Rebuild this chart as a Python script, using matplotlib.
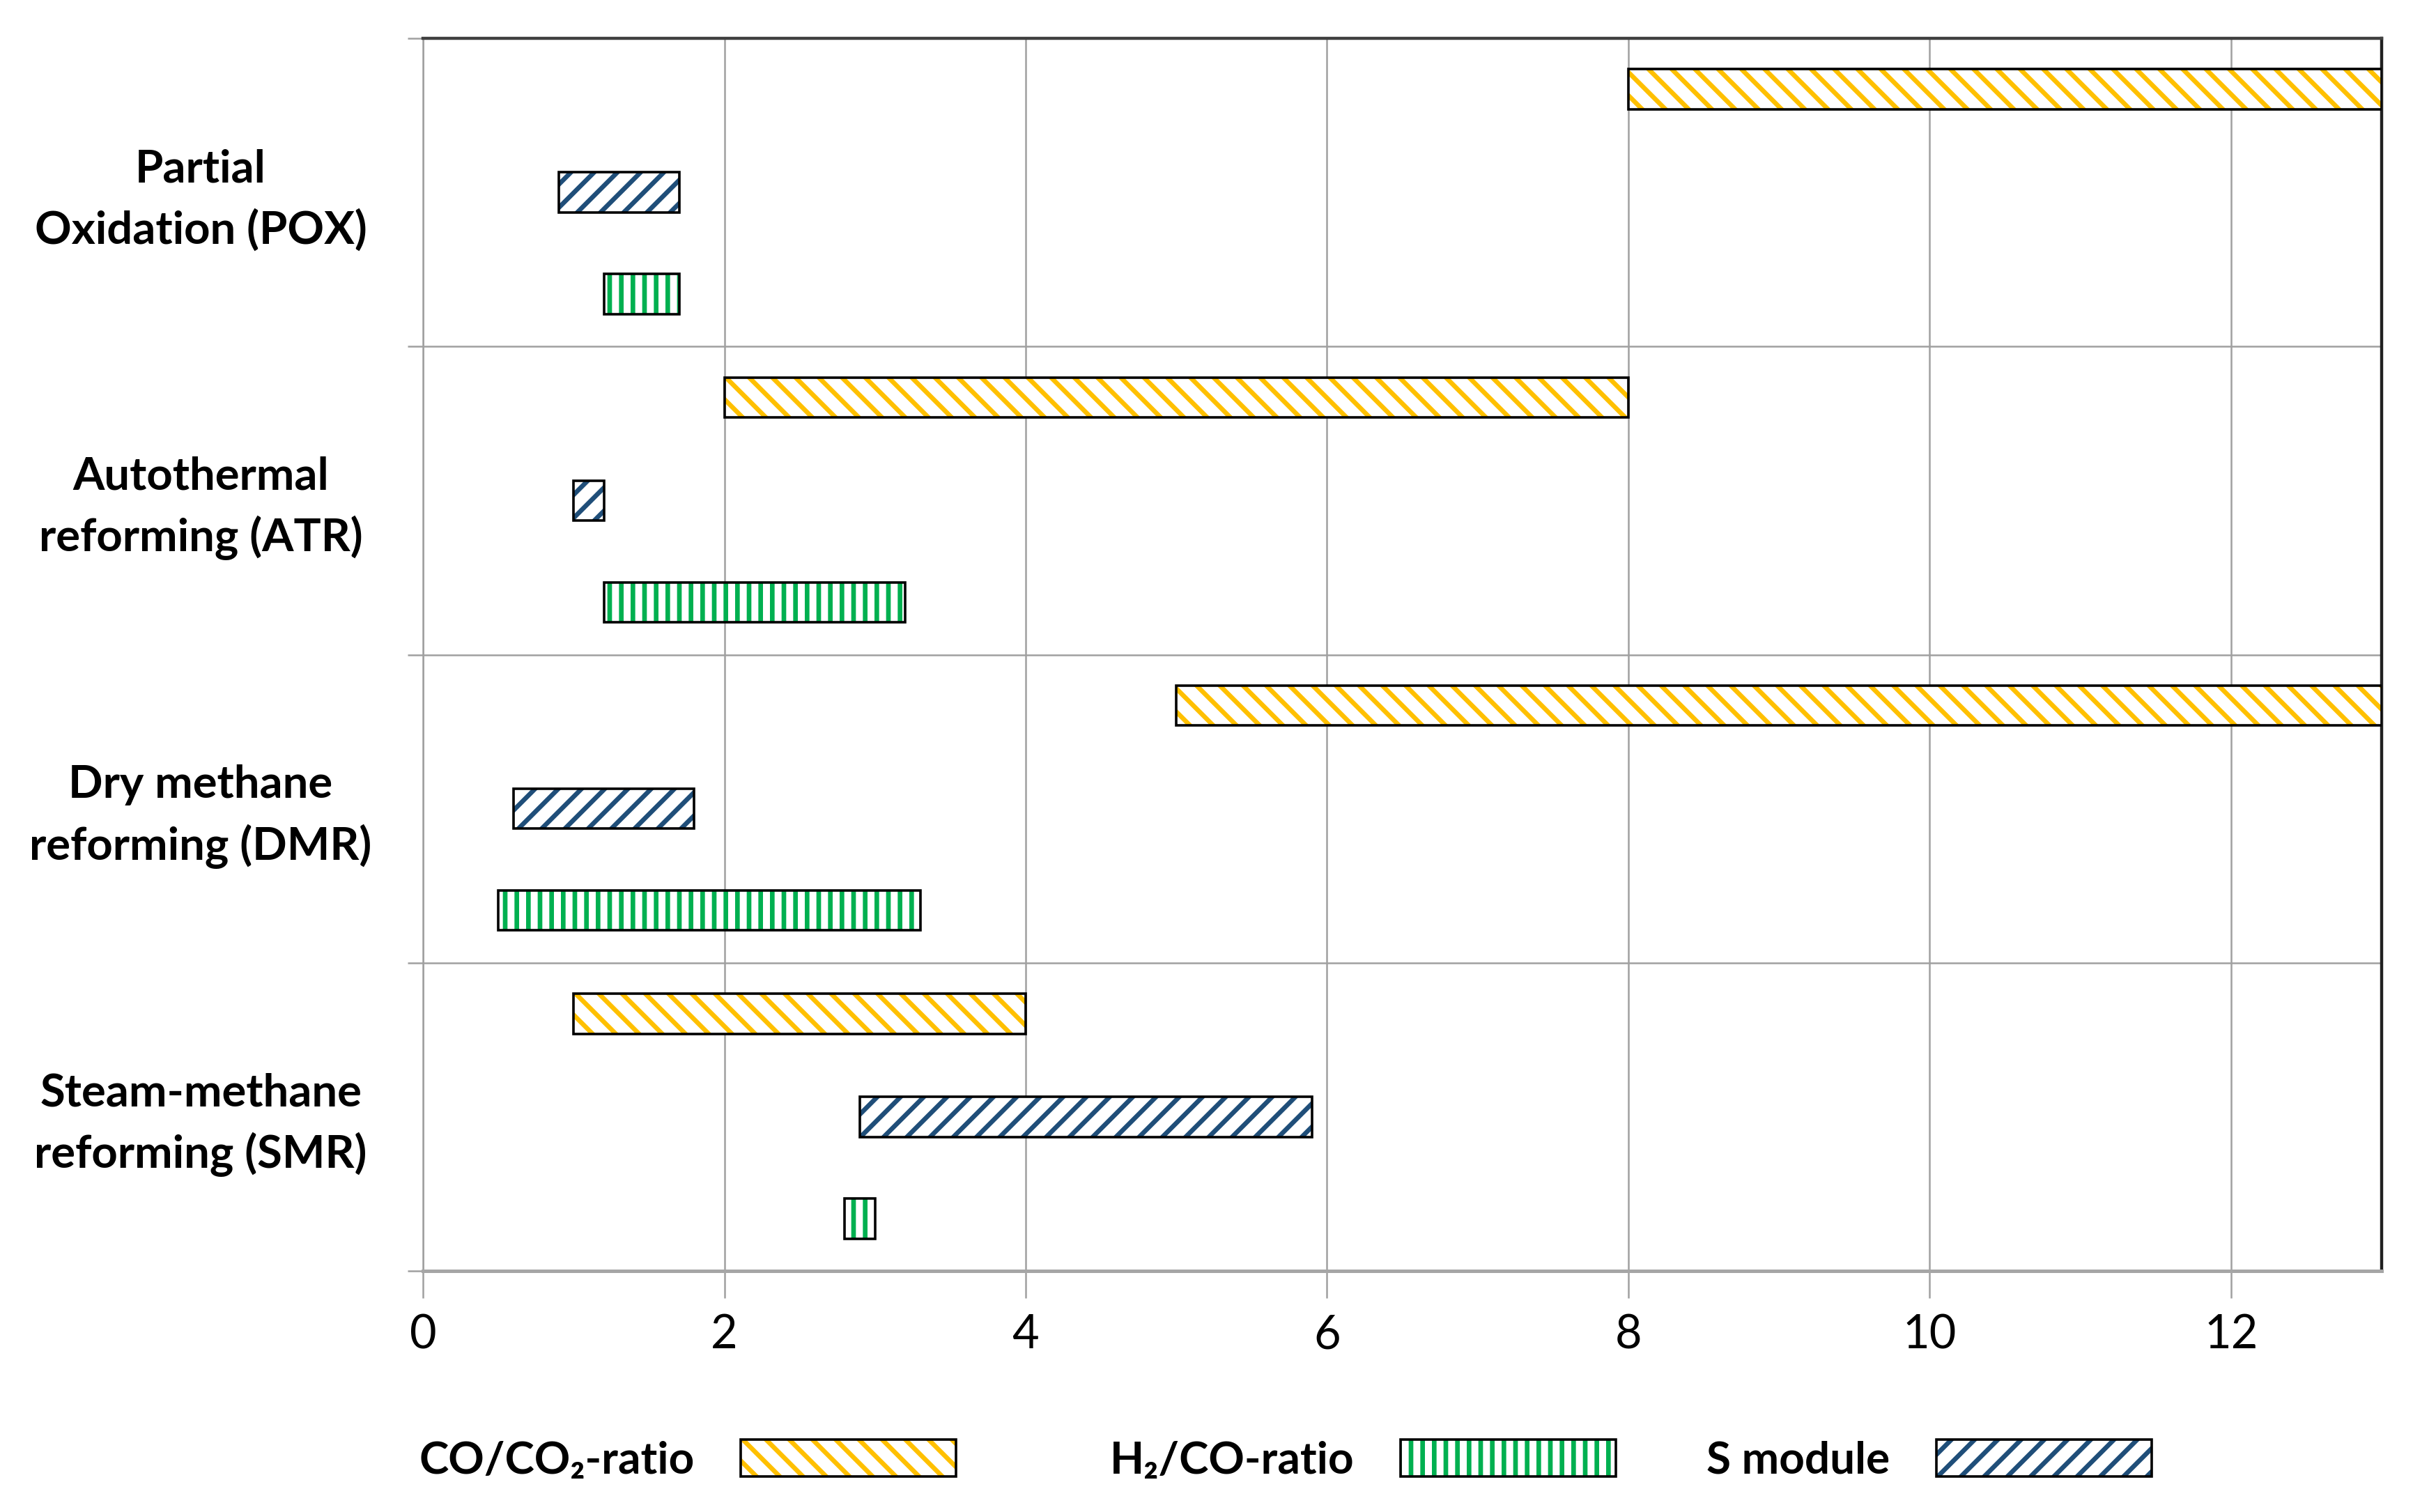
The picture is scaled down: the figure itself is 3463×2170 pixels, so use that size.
import matplotlib.pyplot as plt
from matplotlib.patches import Patch
from matplotlib.legend_handler import HandlerTuple
from matplotlib import transforms

plt.rcParams['font.family'] = ['Lato', 'DejaVu Sans']
plt.rcParams['hatch.linewidth'] = 2.4

processes = ['Partial\nOxidation (POX)', 'Autothermal\nreforming (ATR)',
             'Dry methane\nreforming (DMR)', 'Steam-methane\nreforming (SMR)']

# ranges (low, high)
co_co2_lo = [8, 2, 5, 1]
co_co2_hi = [13, 8, 13, 4]
s_mod_lo = [0.9, 1.0, 0.6, 2.9]
s_mod_hi = [1.7, 1.2, 1.8, 5.9]
h2_co_lo = [1.2, 1.2, 0.5, 2.8]
h2_co_hi = [1.7, 3.2, 3.3, 3.0]

x_ticks = [0, 2, 4, 6, 8, 10, 12]

series = [
    ('CO/CO₂-ratio', co_co2_lo, co_co2_hi, '#FFC000', '\\\\', -0.335),
    ('S module', s_mod_lo, s_mod_hi, '#1F4E79', '//', 0.0),
    ('H₂/CO-ratio', h2_co_lo, h2_co_hi, '#00B050', '||', 0.33),
]

fig = plt.figure(figsize=(17.315, 10.85), dpi=200)
ax = fig.add_axes([0.1753, 0.1594, 0.8117, 0.8152])

bar_h = 0.13
handles = {}
for name, lo, hi, col, hatch, off in series:
    ys = [i + off for i in range(len(processes))]
    widths = [h - l for l, h in zip(lo, hi)]
    ax.barh(ys, widths, left=lo, height=bar_h, color='white', edgecolor=col,
            hatch=hatch, linewidth=0, zorder=3)
    ax.barh(ys, widths, left=lo, height=bar_h, color='none', edgecolor='black',
            linewidth=1.3, zorder=4)
    handles[name] = (Patch(facecolor='white', edgecolor=col, hatch=hatch, linewidth=0),
                     Patch(facecolor='none', edgecolor='black', linewidth=1.3))

ax.set_xlim(0, 13)
ax.set_ylim(len(processes) - 0.5, -0.5)
ax.set_xticks(x_ticks)
ax.set_xticklabels([str(t) for t in x_ticks])
ax.tick_params(axis='x', length=14, width=0.9, color='#A0A0A0', pad=8, labelsize=24)

ax.set_yticks(range(len(processes)))
ax.set_yticklabels([])
ax.tick_params(axis='y', which='major', length=0)
ax.set_yticks([i - 0.5 for i in range(len(processes) + 1)], minor=True)
ax.tick_params(axis='y', which='minor', length=8, width=0.9, color='#A0A0A0')

ax.grid(axis='x', color='#A0A0A0', linewidth=0.9, zorder=0)
ax.grid(axis='y', which='minor', color='#A0A0A0', linewidth=0.9, zorder=0)
ax.set_axisbelow(True)

ax.spines['top'].set_color('#404040')
ax.spines['top'].set_linewidth(1.6)
ax.spines['right'].set_color('#202020')
ax.spines['right'].set_linewidth(1.6)
ax.spines['left'].set_color('#A0A0A0')
ax.spines['left'].set_linewidth(0.9)
ax.spines['bottom'].set_color('#A6A6A6')
ax.spines['bottom'].set_linewidth(1.8)

trans = transforms.blended_transform_factory(ax.transAxes, ax.transData)
for i, p in enumerate(processes):
    ax.text(-0.1135, i + 0.025, p, transform=trans, ha='center', va='center',
            fontsize=23.5, fontweight='bold', linespacing=1.52)

# one legend per entry so each sits where the original puts it
order = ['CO/CO₂-ratio', 'H₂/CO-ratio', 'S module']
legend_x = [0.1645, 0.4508, 0.6981]
for n, lx in zip(order, legend_x):
    leg = fig.legend([handles[n]], [n], loc='center left',
                     bbox_to_anchor=(lx, 0.0344), borderpad=0,
                     markerfirst=False, frameon=False,
                     handler_map={tuple: HandlerTuple(ndivide=1, pad=0)},
                     handlelength=4.83, handleheight=0.9, handletextpad=1.04,
                     prop=dict(weight='bold', size=23))

fig.savefig('out.png', dpi=200)
